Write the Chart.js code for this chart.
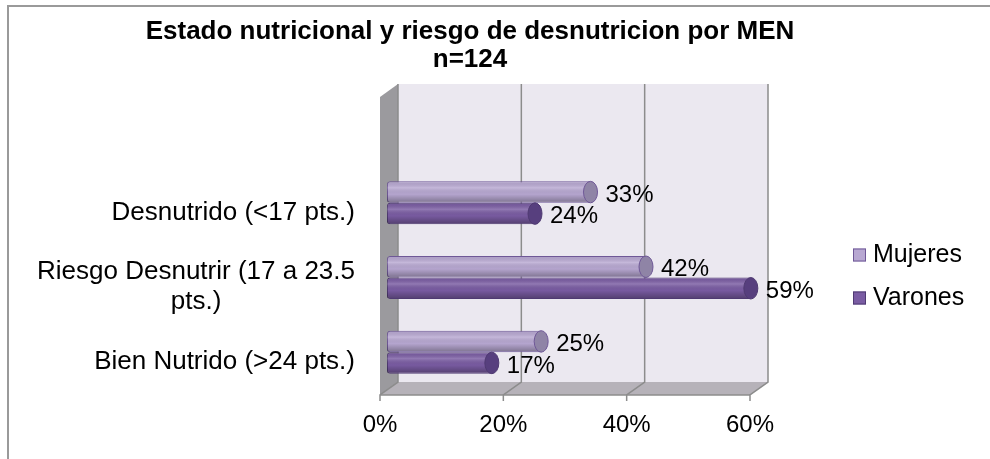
<!DOCTYPE html>
<html>
<head>
<meta charset="utf-8">
<script src="https://cdn.jsdelivr.net/npm/chart.js@4.4.1/dist/chart.umd.min.js"></script>
<style>
  html, body { margin: 0; padding: 0; background: #fff; }
  #wrap { width: 990px; height: 459px; }
</style>
</head>
<body>
<div id="wrap"><canvas id="nutriChart" width="990" height="459"></canvas></div>
<script>
const chartTitle = ['Estado nutricional y riesgo de desnutricion por MEN', 'n=124'];
const categories = [
  ['Desnutrido (<17 pts.)'],
  ['Riesgo Desnutrir (17 a 23.5', 'pts.)'],
  ['Bien Nutrido (>24 pts.)']
];
const mujeres = [33, 42, 25];
const varones = [24, 59, 17];
const xTicks = [0, 20, 40, 60];

const FONT = '"Liberation Sans", Arial, sans-serif';
// fake depth of the excel 3d box
const DX = 18, DY = 13;
// bars sit a bit inside the box
const BAR_DX = 7, BAR_DY = -9.5;
const capColors = ['#8f84a6', '#573f7e'];

const box3d = {
  id: 'box3d',
  beforeDraw(chart) {
    const { ctx, chartArea: a, scales: { x } } = chart;
    const fy = a.bottom - 4;
    const by = fy - DY;
    const top = a.top - 91;
    ctx.save();

    // outer frame (only top and left visible)
    ctx.strokeStyle = '#9a9a9a';
    ctx.lineWidth = 2;
    ctx.beginPath();
    ctx.moveTo(8, 459); ctx.lineTo(8, 6); ctx.lineTo(990, 6);
    ctx.stroke();

    // back wall
    ctx.fillStyle = '#ebe8f0';
    ctx.fillRect(a.left + DX, top, a.right - a.left, by - top);

    // side wall
    ctx.fillStyle = '#9b9a9e';
    ctx.beginPath();
    ctx.moveTo(a.left, top + DY);
    ctx.lineTo(a.left + DX, top);
    ctx.lineTo(a.left + DX, by);
    ctx.lineTo(a.left, fy);
    ctx.closePath();
    ctx.fill();

    // floor
    ctx.fillStyle = '#b6b2b9';
    ctx.beginPath();
    ctx.moveTo(a.left, fy);
    ctx.lineTo(a.left + DX, by);
    ctx.lineTo(a.right + DX, by);
    ctx.lineTo(a.right, fy);
    ctx.closePath();
    ctx.fill();

    // grid lines on wall + floor, tick marks on front edge
    ctx.strokeStyle = '#8c8c8c';
    ctx.lineWidth = 1.5;
    x.ticks.forEach(t => {
      const px = x.getPixelForValue(t.value);
      ctx.beginPath();
      ctx.moveTo(px + DX, top); ctx.lineTo(px + DX, by);
      ctx.lineTo(px, fy); ctx.lineTo(px, fy + 6);
      ctx.stroke();
    });
    ctx.beginPath();
    ctx.moveTo(a.left, fy); ctx.lineTo(a.right, fy);
    ctx.stroke();

    ctx.restore();
  },
  beforeDatasetsDraw(chart) {
    chart.ctx.save();
    chart.ctx.translate(BAR_DX, BAR_DY);
  },
  afterDatasetsDraw(chart) {
    const ctx = chart.ctx;
    chart.data.datasets.forEach((ds, i) => {
      chart.getDatasetMeta(i).data.forEach(bar => {
        const { x, y, base, height } = bar.getProps(['x', 'y', 'base', 'height'], true);
        const t = y - height / 2;
        // cylinder shading
        const g = ctx.createLinearGradient(0, t, 0, t + height);
        g.addColorStop(0, 'rgba(0,0,0,0.04)');
        g.addColorStop(0.3, 'rgba(255,255,255,0.18)');
        g.addColorStop(0.6, 'rgba(0,0,0,0.02)');
        g.addColorStop(1, 'rgba(0,0,0,0.32)');
        ctx.fillStyle = g;
        ctx.fillRect(base, t + 1, x - base, height - 2);
        // end cap
        ctx.beginPath();
        ctx.ellipse(x, y, 7, height / 2, 0, 0, Math.PI * 2);
        ctx.fillStyle = capColors[i];
        ctx.fill();
        ctx.strokeStyle = ds.borderColor;
        ctx.lineWidth = 1;
        ctx.stroke();
      });
    });
    ctx.restore();
  },
  afterDraw(chart) {
    const { ctx, chartArea: a, scales: { y } } = chart;
    ctx.save();
    ctx.fillStyle = '#000';
    ctx.textBaseline = 'middle';

    // title
    ctx.font = 'bold 26px ' + FONT;
    ctx.textAlign = 'center';
    ctx.fillText(chartTitle[0], 470, 32);
    ctx.fillText(chartTitle[1], 470, 60);

    // category labels: block right aligned, lines centred in block
    ctx.font = '26px ' + FONT;
    const right = a.left - 25;
    categories.forEach((lines, j) => {
      const c = y.getPixelForValue(j);
      const w = Math.max(...lines.map(l => ctx.measureText(l).width));
      lines.forEach((l, k) => {
        ctx.fillText(l, right - w / 2, c + (k - (lines.length - 1) / 2) * 30);
      });
    });

    // value labels
    ctx.font = '24px ' + FONT;
    ctx.textAlign = 'left';
    chart.data.datasets.forEach((ds, i) => {
      chart.getDatasetMeta(i).data.forEach((bar, j) => {
        ctx.fillText(ds.data[j] + '%', bar.x + BAR_DX + 15, bar.y + BAR_DY + 3);
      });
    });

    // legend
    ctx.font = '25px ' + FONT;
    chart.data.datasets.forEach((ds, i) => {
      const ly = a.top + 80 + i * 43;
      const lx = a.right + 103;
      ctx.fillStyle = ds.backgroundColor;
      ctx.fillRect(lx, ly - 6.5, 13, 13);
      ctx.strokeStyle = ds.borderColor;
      ctx.lineWidth = 1;
      ctx.strokeRect(lx + 0.5, ly - 6, 12, 12);
      ctx.fillStyle = '#000';
      ctx.fillText(ds.label, lx + 20, ly);
    });
    ctx.restore();
  }
};

new Chart(document.getElementById('nutriChart'), {
  type: 'bar',
  data: {
    labels: categories,
    datasets: [
      {
        label: 'Mujeres',
        data: mujeres,
        backgroundColor: '#b8a8d2',
        borderColor: '#6f5897',
        borderWidth: 1,
        borderSkipped: false,
        borderRadius: { topLeft: 3, bottomLeft: 3 },
        categoryPercentage: 0.576,
        barPercentage: 1
      },
      {
        label: 'Varones',
        data: varones,
        backgroundColor: '#7a5ca3',
        borderColor: '#4f3a72',
        borderWidth: 1,
        borderSkipped: false,
        borderRadius: { topLeft: 3, bottomLeft: 3 },
        categoryPercentage: 0.576,
        barPercentage: 1
      }
    ]
  },
  options: {
    responsive: false,
    animation: false,
    indexAxis: 'y',
    layout: { padding: { top: 175, right: 240, bottom: 0, left: 0 } },
    plugins: {
      legend: { display: false },
      title: { display: false },
      tooltip: { enabled: false }
    },
    scales: {
      x: {
        min: 0,
        max: 60,
        grid: { display: false, drawTicks: false },
        border: { display: false },
        ticks: {
          color: '#000',
          font: { family: FONT, size: 24 },
          padding: 12,
          callback: v => v + '%'
        },
        afterBuildTicks: s => { s.ticks = xTicks.map(v => ({ value: v })); },
        afterFit: s => { s.height = 60; }
      },
      y: {
        grid: { display: false, drawTicks: false },
        border: { display: false },
        ticks: { display: false },
        afterFit: s => { s.width = 380; }
      }
    }
  },
  plugins: [box3d]
});
</script>
</body>
</html>
